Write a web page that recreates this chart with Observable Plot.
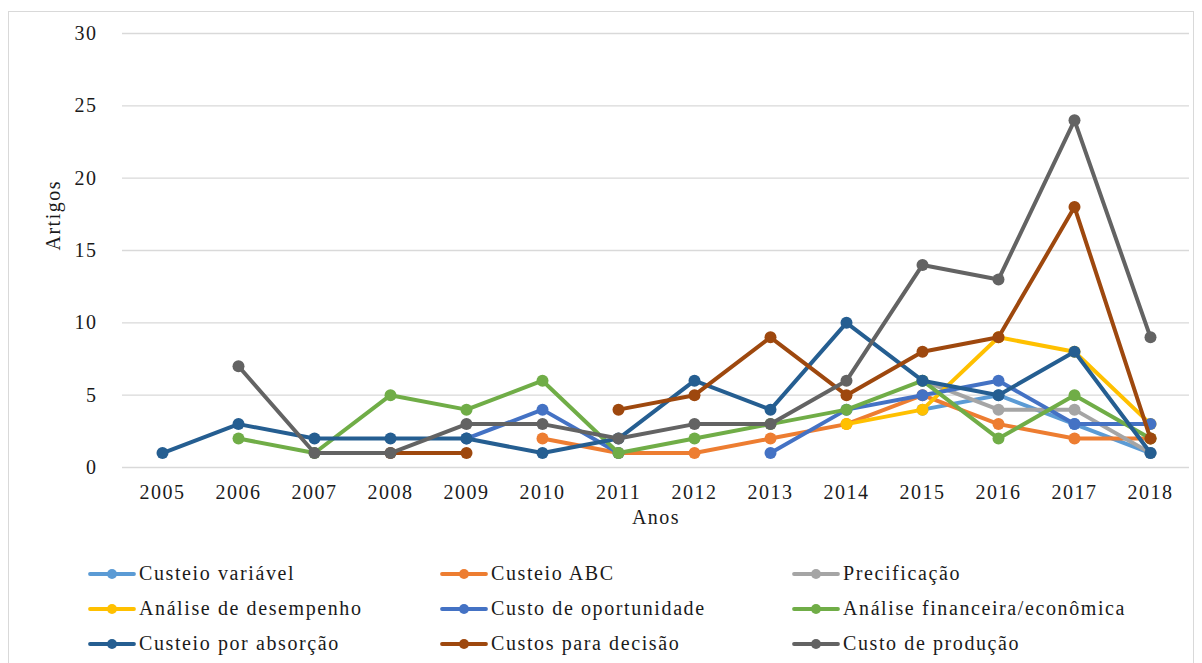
<!DOCTYPE html>
<html>
<head>
<meta charset="utf-8">
<script src="https://cdn.jsdelivr.net/npm/d3@7"></script>
<script src="https://cdn.jsdelivr.net/npm/@observablehq/plot@0.6"></script>
<style>
  html, body { margin: 0; padding: 0; background: #fff; }
  body { width: 1202px; height: 663px; position: relative; overflow: hidden; font-family: "Liberation Serif", "Times New Roman", Tinos, "DejaVu Serif", serif; }
  #frame { position: absolute; left: 8px; top: 11px; width: 1186px; height: 680px; border: 1.5px solid #d9d9d9; box-sizing: border-box; }
  #chart { position: absolute; left: 0; top: 0; }
  #chart svg, #chart svg text { font-family: "Liberation Serif", "Times New Roman", Tinos, "DejaVu Serif", serif !important; letter-spacing: 1.5px; }
  #legend { position: absolute; left: 88px; top: 556px; display: grid; grid-template-columns: 352px 352px 352px; grid-auto-rows: 35px; }
  .item { display: flex; align-items: center; font-size: 20px; letter-spacing: 1.6px; color: #1a1a1a; white-space: nowrap; }
  .item svg { margin-right: 3px; flex: none; }
</style>
</head>
<body>
<div id="frame"></div>
<div id="chart"></div>
<div id="legend"></div>
<script>
const years = ["2005","2006","2007","2008","2009","2010","2011","2012","2013","2014","2015","2016","2017","2018"];
const yTicks = [0, 5, 10, 15, 20, 25, 30];

const seriesNames = [
  "Custeio variável", "Custeio ABC", "Precificação",
  "Análise de desempenho", "Custo de oportunidade", "Análise financeira/econômica",
  "Custeio por absorção", "Custos para decisão", "Custo de produção"
];
const seriesColors = ["#5B9BD5", "#ED7D31", "#A5A5A5", "#FFC000", "#4472C4", "#70AD47", "#255E91", "#9E480E", "#636363"];

const custeioVariavel    = [null, null, null, null, null, null, null, null, null, null, 4, 5, 3, 1];
const custeioABC         = [null, null, null, null, null, 2, 1, 1, 2, 3, 5, 3, 2, 2];
const precificacao       = [null, null, null, null, null, null, null, null, null, null, 6, 4, 4, 1];
const analiseDesempenho  = [null, null, null, null, null, null, null, null, null, 3, 4, 9, 8, 3];
const custoOportunidade  = [null, null, null, null, 2, 4, 1, null, 1, 4, 5, 6, 3, 3];
const analiseFinanceira  = [null, 2, 1, 5, 4, 6, 1, 2, 3, 4, 6, 2, 5, 2];
const custeioAbsorcao    = [1, 3, 2, 2, 2, 1, 2, 6, 4, 10, 6, 5, 8, 1];
const custosDecisao      = [null, null, null, 1, 1, null, 4, 5, 9, 5, 8, 9, 18, 2];
const custoProducao      = [null, 7, 1, 1, 3, 3, 2, 3, 3, 6, 14, 13, 24, 9];

const seriesValues = [custeioVariavel, custeioABC, precificacao, analiseDesempenho, custoOportunidade,
  analiseFinanceira, custeioAbsorcao, custosDecisao, custoProducao];

const tables = seriesValues.map((vals, i) =>
  years.map((yr, j) => ({ year: yr, value: vals[j], series: seriesNames[i] })));

const seriesMarks = tables.flatMap((t, i) => [
  Plot.line(t, { x: "year", y: "value", stroke: seriesColors[i], strokeWidth: 4, strokeLinejoin: "round", strokeLinecap: "round" }),
  Plot.dot(t.filter(d => d.value != null), { x: "year", y: "value", fill: seriesColors[i], r: 6 })
]);

const chart = Plot.plot({
  width: 1202,
  height: 545,
  marginLeft: 122,
  marginRight: 13,
  marginTop: 33,
  marginBottom: 78,
  style: { fontSize: "20px", color: "#1a1a1a", background: "transparent", overflow: "visible" },
  x: { type: "point", domain: years, padding: 0.5 },
  y: { domain: [0, 30] },
  marks: [
    Plot.ruleY(yTicks, { stroke: "#d9d9d9", strokeWidth: 1.4 }),
    Plot.axisY({ ticks: yTicks, tickSize: 0, tickPadding: 25, label: null }),
    Plot.axisX({ tickSize: 0, tickPadding: 17, label: null }),
    Plot.text(["Anos"], { frameAnchor: "bottom", dy: 56, fontSize: 20 }),
    Plot.text(["Artigos"], { frameAnchor: "left", dx: -69, rotate: -90, fontSize: 20 }),
    ...seriesMarks
  ]
});
document.getElementById("chart").appendChild(chart);

const legend = document.getElementById("legend");
seriesNames.forEach((name, i) => {
  const item = document.createElement("div");
  item.className = "item";
  item.innerHTML = `<svg width="48" height="14"><line x1="2" y1="7" x2="46" y2="7" stroke="${seriesColors[i]}" stroke-width="3.8" stroke-linecap="round"/><circle cx="24" cy="7" r="5" fill="${seriesColors[i]}"/></svg><span>${name}</span>`;
  legend.appendChild(item);
});
</script>
</body>
</html>
